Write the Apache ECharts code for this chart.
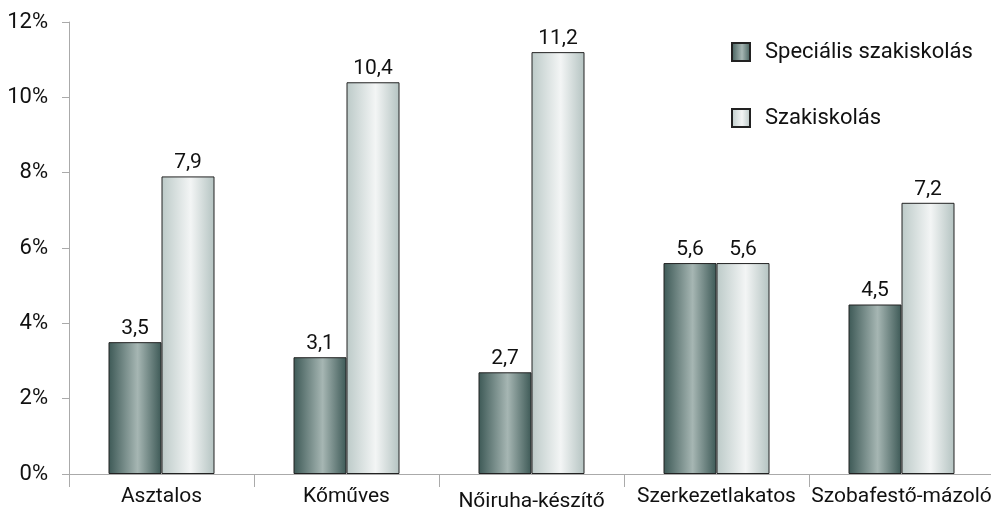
<!DOCTYPE html>
<html><head><meta charset="utf-8">
<script src="https://cdn.jsdelivr.net/npm/echarts@6/dist/echarts.min.js"></script>
<style>html,body{margin:0;padding:0;background:#fff}#c{width:991px;height:509px}</style>
</head><body><div id="c"></div>
<script>
const categories = ['Asztalos','Kőműves','Nőiruha-készítő','Szerkezetlakatos','Szobafestő-mázoló'];
const specialis = [3.5,3.1,2.7,5.6,4.5];
const szakiskola = [7.9,10.4,11.2,5.6,7.2];
const yTicks = [0,2,4,6,8,10,12];
const seriesNames = ['Speciális szakiskolás','Szakiskolás'];

const F = 'Roboto, "Noto Sans", sans-serif';
const darkGrad = {type:'linear',x:0,y:0,x2:1,y2:0,colorStops:[
  {offset:0,color:'#3d5956'},{offset:0.55,color:'#a6b6b3'},{offset:1,color:'#3d5956'}]};
const lightGrad = {type:'linear',x:0,y:0,x2:1,y2:0,colorStops:[
  {offset:0,color:'#bccac8'},{offset:0.55,color:'#f3f5f5'},{offset:1,color:'#b4c3c1'}]};
const fmt = p => String(p.value).replace('.', ',');

const chart = echarts.init(document.getElementById('c'));
chart.setOption({
  animation:false,
  textStyle:{fontFamily:F},
  grid:{left:69,top:22,width:925,bottom:35,containLabel:false,outerBoundsMode:'none'},
  legend:{
    orient:'vertical', left:726, top:36, itemWidth:18, itemHeight:18, itemGap:44,
    textStyle:{fontSize:22,color:'#111',fontFamily:F,padding:[0,0,0,10]},
    data:seriesNames.map(n=>({name:n,icon:'rect'}))
  },
  xAxis:{
    type:'category',
    data:categories.map((c,i)=> i===2 ? {value:c,textStyle:{padding:[5,0,0,0]}} : c),
    axisLine:{lineStyle:{color:'#aaa',width:1}},
    axisTick:{show:true,length:13,lineStyle:{color:'#aaa'}},
    axisLabel:{fontSize:21,color:'#111',margin:12,fontFamily:F,interval:0,hideOverlap:false}
  },
  yAxis:{
    type:'value', min:yTicks[0], max:yTicks[yTicks.length-1], interval:2,
    axisLine:{show:true,lineStyle:{color:'#aaa'}},
    axisTick:{show:true,length:7,lineStyle:{color:'#aaa'}},
    splitLine:{show:false},
    axisLabel:{fontSize:22,color:'#111',margin:21,fontFamily:F,formatter:v=>v+'%'}
  },
  series:[
    {name:seriesNames[0],type:'bar',data:specialis,barWidth:53,barGap:'0%',
     itemStyle:{color:darkGrad,borderColor:'#222',borderWidth:1},
     label:{show:true,position:'top',distance:3,fontSize:21,color:'#111',fontFamily:F,formatter:fmt}},
    {name:seriesNames[1],type:'bar',data:szakiskola,barWidth:53,
     itemStyle:{color:lightGrad,borderColor:'#222',borderWidth:1},
     label:{show:true,position:'top',distance:3,fontSize:21,color:'#111',fontFamily:F,formatter:fmt}}
  ]
});
</script></body></html>
